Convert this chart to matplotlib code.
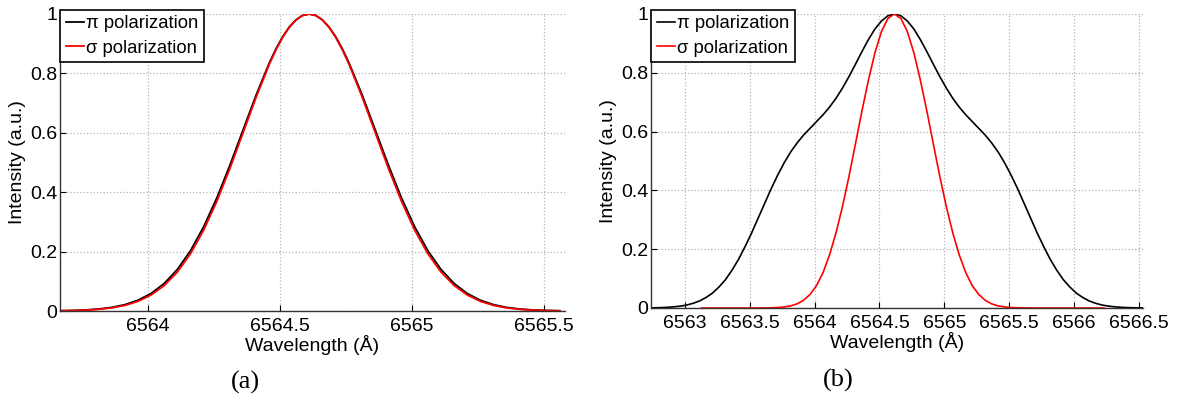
import matplotlib
matplotlib.use('Agg')
import matplotlib.pyplot as plt
from matplotlib.ticker import FormatStrFormatter

plt.rcParams['font.family'] = ['Liberation Sans', 'DejaVu Sans']

# ---- panel (a): both polarizations almost the same profile ----
wl_a = [6563.66, 6563.71, 6563.76, 6563.81, 6563.86, 6563.91, 6563.96, 6564.01,
        6564.06, 6564.11, 6564.16, 6564.21, 6564.26, 6564.31, 6564.36, 6564.41,
        6564.46, 6564.485, 6564.51, 6564.535, 6564.56, 6564.585, 6564.61,
        6564.635, 6564.66, 6564.685, 6564.71, 6564.735, 6564.76, 6564.81,
        6564.86, 6564.91, 6564.96, 6565.01, 6565.06, 6565.11, 6565.16, 6565.21,
        6565.26, 6565.31, 6565.36, 6565.41, 6565.46, 6565.51, 6565.56]
pi_a = [0.0008, 0.0017, 0.0034, 0.0065, 0.0119, 0.0211, 0.0359, 0.0587,
        0.0924, 0.1397, 0.2030, 0.2837, 0.3811, 0.4923, 0.6113, 0.7298,
        0.8376, 0.8842, 0.9243, 0.9567, 0.9805, 0.9951, 1.0,
        0.9951, 0.9805, 0.9567, 0.9243, 0.8842, 0.8376, 0.7298,
        0.6113, 0.4923, 0.3811, 0.2837, 0.2030, 0.1397, 0.0924, 0.0587,
        0.0359, 0.0211, 0.0119, 0.0065, 0.0034, 0.0017, 0.0008]
sigma_a = [0.0007, 0.0014, 0.0028, 0.0055, 0.0103, 0.0186, 0.0322, 0.0536,
           0.0855, 0.1310, 0.1928, 0.2723, 0.3694, 0.4811, 0.6017, 0.7224,
           0.8328, 0.8807, 0.9219, 0.9553, 0.9799, 0.9949, 1.0,
           0.9949, 0.9799, 0.9553, 0.9219, 0.8807, 0.8328, 0.7224,
           0.6017, 0.4811, 0.3694, 0.2723, 0.1928, 0.1310, 0.0855, 0.0536,
           0.0322, 0.0186, 0.0103, 0.0055, 0.0028, 0.0014, 0.0007]

# ---- panel (b): broad pi profile with shoulders, narrow sigma ----
wl_b_pi = [6562.74, 6562.765, 6562.815, 6562.865, 6562.915, 6562.965, 6563.015,
           6563.065, 6563.115, 6563.165, 6563.215, 6563.265, 6563.315, 6563.365,
           6563.415, 6563.465, 6563.515, 6563.565, 6563.615, 6563.665, 6563.715,
           6563.765, 6563.815, 6563.865, 6563.915, 6563.965, 6564.015, 6564.065,
           6564.115, 6564.165, 6564.215, 6564.265, 6564.315, 6564.365, 6564.415,
           6564.465, 6564.515, 6564.565, 6564.615, 6564.665, 6564.715, 6564.765,
           6564.815, 6564.865, 6564.915, 6564.965, 6565.015, 6565.065, 6565.115,
           6565.165, 6565.215, 6565.265, 6565.315, 6565.365, 6565.415, 6565.465,
           6565.515, 6565.565, 6565.615, 6565.665, 6565.715, 6565.765, 6565.815,
           6565.865, 6565.915, 6565.965, 6566.015, 6566.065, 6566.115, 6566.165,
           6566.215, 6566.265, 6566.315, 6566.365, 6566.415, 6566.465, 6566.515,
           6566.53]
pi_b = [0.0005, 0.0007, 0.0013, 0.0023, 0.0039, 0.0063, 0.010,
        0.016, 0.024, 0.036, 0.051, 0.072, 0.097, 0.129,
        0.166, 0.209, 0.255, 0.305, 0.355, 0.405, 0.451,
        0.493, 0.530, 0.561, 0.588, 0.611, 0.634, 0.657,
        0.683, 0.713, 0.748, 0.787, 0.829, 0.872, 0.913,
        0.949, 0.976, 0.994, 1.0, 0.994, 0.976, 0.949,
        0.913, 0.872, 0.829, 0.787, 0.748, 0.713, 0.683,
        0.657, 0.634, 0.611, 0.588, 0.561, 0.530, 0.493,
        0.451, 0.405, 0.355, 0.305, 0.255, 0.209, 0.166,
        0.129, 0.097, 0.072, 0.051, 0.036, 0.024, 0.016,
        0.010, 0.0063, 0.0039, 0.0023, 0.0013, 0.0007, 0.0004,
        0.0003]
wl_b_sigma = [6563.13, 6563.515, 6563.615, 6563.665, 6563.715, 6563.765,
              6563.815, 6563.865, 6563.915, 6563.965, 6564.015, 6564.065,
              6564.115, 6564.165, 6564.215, 6564.265, 6564.315, 6564.365,
              6564.415, 6564.465, 6564.515, 6564.565, 6564.615, 6564.665,
              6564.715, 6564.765, 6564.815, 6564.865, 6564.915, 6564.965,
              6565.015, 6565.065, 6565.115, 6565.165, 6565.215, 6565.265,
              6565.315, 6565.365, 6565.415, 6565.465, 6565.515, 6565.565,
              6565.615, 6565.715, 6566.23]
sigma_b = [0.0, 0.0, 0.0003, 0.0007, 0.0016, 0.0035,
           0.007, 0.014, 0.026, 0.046, 0.076, 0.120,
           0.180, 0.255, 0.345, 0.447, 0.558, 0.670,
           0.775, 0.868, 0.940, 0.985, 1.0, 0.985,
           0.940, 0.868, 0.775, 0.670, 0.558, 0.447,
           0.345, 0.255, 0.180, 0.120, 0.076, 0.046,
           0.026, 0.014, 0.007, 0.0035, 0.0016, 0.0007,
           0.0003, 0.0, 0.0]

yticks = [0, 0.2, 0.4, 0.6, 0.8, 1]
ytick_labels = ['0', '0.2', '0.4', '0.6', '0.8', '1']
xticks_a = [6564, 6564.5, 6565, 6565.5]
xticks_b = [6563, 6563.5, 6564, 6564.5, 6565, 6565.5, 6566, 6566.5]
labels = ['\u03c0 polarization', '\u03c3 polarization']


def style(ax, xticks, xlim):
    ax.set_xlim(xlim)
    ax.set_ylim(0, 1)
    ax.set_xticks(xticks)
    ax.xaxis.set_major_formatter(FormatStrFormatter('%g'))
    ax.set_yticks(yticks)
    ax.set_yticklabels(ytick_labels)
    ax.grid(True, linestyle=':', color='#b4b4b4', linewidth=0.9)
    ax.set_axisbelow(True)
    for s in ['top', 'right']:
        ax.spines[s].set_visible(False)
    for s in ['left', 'bottom']:
        ax.spines[s].set_color('#333333')
        ax.spines[s].set_linewidth(1.0)
    ax.tick_params(direction='in', length=4, width=0.8, labelsize=14)
    ax.tick_params(axis='x', pad=5)
    ax.tick_params(axis='y', pad=2)
    ax.set_xlabel('Wavelength (\u00c5)', fontsize=14, labelpad=0)
    ax.set_ylabel('Intensity (a.u.)', fontsize=14, labelpad=3)
    leg = ax.legend(loc='upper left', bbox_to_anchor=(0.0, 1.014), fontsize=13.3,
                    frameon=True, fancybox=False, edgecolor='black', framealpha=1,
                    handlelength=1.0, handletextpad=0.1, borderpad=0.3,
                    labelspacing=0.4, borderaxespad=0)
    leg.get_frame().set_linewidth(1.2)


fig = plt.figure(figsize=(11.78, 4.0), dpi=100)

ax1 = fig.add_axes([0.0509, 0.2225, 0.4287, 0.7425])
ax1.plot(wl_a, pi_a, color='black', lw=1.3, label=labels[0])
ax1.plot(wl_a, sigma_a, color='red', lw=1.3, label=labels[1])
style(ax1, xticks_a, (6563.665, 6565.58))

ax2 = fig.add_axes([0.5526, 0.23, 0.4177, 0.735])
ax2.plot(wl_b_pi, pi_b, color='black', lw=1.2, label=labels[0])
ax2.plot(wl_b_sigma, sigma_b, color='red', lw=1.2, label=labels[1])
style(ax2, xticks_b, (6562.74, 6566.53))

fig.text(0.208, 0.045, '(a)', family=['Liberation Serif', 'DejaVu Serif'],
         fontsize=19, ha='center', va='center')
fig.text(0.712, 0.048, '(b)', family=['Liberation Serif', 'DejaVu Serif'],
         fontsize=19, ha='center', va='center')

fig.savefig('out.png', dpi=100)
